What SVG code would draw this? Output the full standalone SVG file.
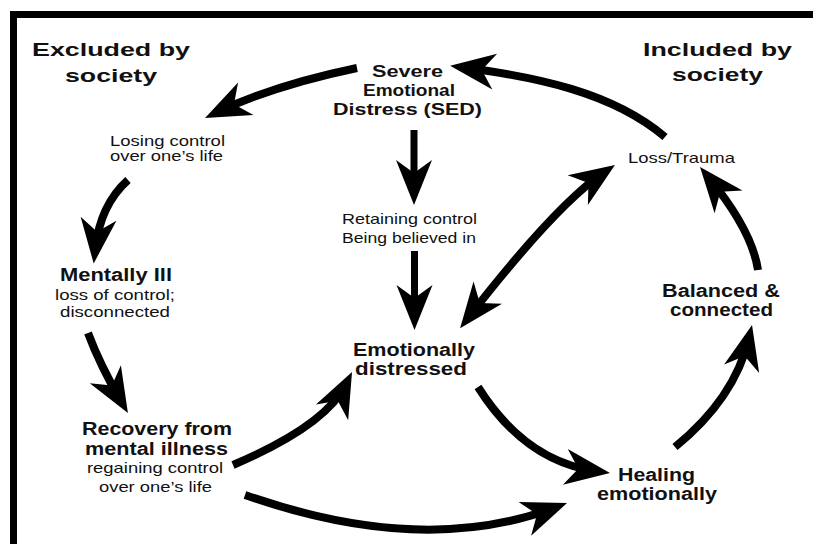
<svg xmlns="http://www.w3.org/2000/svg" width="813" height="544" viewBox="0 0 813 544">
<style>
text{font-family:"Liberation Sans",Arial,Helvetica,sans-serif;fill:#111;text-anchor:middle}
.h{font-size:19px;font-weight:bold}
.t{font-size:18px;font-weight:bold}
.s{font-size:16px;font-weight:bold}
.n{font-size:14.5px}
.c{fill:none;stroke:#000;stroke-width:8;stroke-linecap:butt}
</style>
<defs>
<marker id="ah" markerUnits="userSpaceOnUse" markerWidth="60" markerHeight="40" viewBox="-32 -20 60 40" refX="0" refY="0" orient="auto-start-reverse" overflow="visible">
<path d="M14,0 L-31,-18 L-18,0 L-31,18 Z" fill="#000"/>
</marker>
</defs>
<rect width="813" height="544" fill="#fff"/>
<g id="frame" fill="#000">
<rect x="10" y="11" width="803" height="7"/>
<rect x="10" y="11" width="7" height="533"/>
</g>
<g id="connectors">
<path class="c" d="M357,68 Q275,85 217.7,112" marker-end="url(#ah)"/>
<path class="c" d="M665,137 C612,92 535,77 464,67.5" marker-end="url(#ah)"/>
<path class="c" d="M128,180 Q100,205 95.2,249.6" marker-end="url(#ah)"/>
<path class="c" d="M88,333 Q100,365 120.9,401" marker-end="url(#ah)"/>
<path class="c" d="M233,465 Q325.4,425.8 345.8,384.6" marker-end="url(#ah)"/>
<path class="c" d="M245,495 Q422,557 553.9,508" marker-end="url(#ah)"/>
<path class="c" d="M478,387 Q525,461.4 596.1,471.1" marker-end="url(#ah)"/>
<path class="c" d="M675,447 Q734.6,398.4 748.8,338.6" marker-end="url(#ah)"/>
<path class="c" d="M758,270 Q752,230.5 708.9,177.8" marker-end="url(#ah)"/>
<path class="c" d="M468.7,317.1 Q556,205 603.4,172.8" marker-start="url(#ah)" marker-end="url(#ah)"/>
<path class="c" style="stroke-width:7" d="M414,130 L414,191" marker-end="url(#ah)"/>
<path class="c" style="stroke-width:7" d="M414.5,251 L414.5,316" marker-end="url(#ah)"/>
</g>
<g id="excluded">
<text class="h" x="111" y="56" textLength="158" lengthAdjust="spacingAndGlyphs">Excluded by</text>
<text class="h" x="111" y="82" textLength="92" lengthAdjust="spacingAndGlyphs">society</text>
</g>
<g id="included">
<text class="h" x="717.5" y="56" textLength="149" lengthAdjust="spacingAndGlyphs">Included by</text>
<text class="h" x="717.5" y="81" textLength="91" lengthAdjust="spacingAndGlyphs">society</text>
</g>
<g id="sed">
<text class="s" x="407.5" y="77" textLength="71" lengthAdjust="spacingAndGlyphs">Severe</text>
<text class="s" x="409" y="96" textLength="92" lengthAdjust="spacingAndGlyphs">Emotional</text>
<text class="s" x="407.5" y="115" textLength="149" lengthAdjust="spacingAndGlyphs">Distress (SED)</text>
</g>
<g id="losing">
<text class="n" x="167.5" y="146" textLength="115" lengthAdjust="spacingAndGlyphs">Losing control</text>
<text class="n" x="166.5" y="161" textLength="113" lengthAdjust="spacingAndGlyphs">over one’s life</text>
</g>
<g id="mentally-ill">
<text class="t" x="116" y="281" textLength="112" lengthAdjust="spacingAndGlyphs">Mentally Ill</text>
<text class="n" x="115" y="300" textLength="120" lengthAdjust="spacingAndGlyphs">loss of control;</text>
<text class="n" x="115" y="317" textLength="110" lengthAdjust="spacingAndGlyphs">disconnected</text>
</g>
<g id="recovery">
<text class="t" x="157" y="435" textLength="150" lengthAdjust="spacingAndGlyphs">Recovery from</text>
<text class="t" x="156.5" y="455" textLength="143" lengthAdjust="spacingAndGlyphs">mental illness</text>
<text class="n" x="155" y="473" textLength="136" lengthAdjust="spacingAndGlyphs">regaining control</text>
<text class="n" x="155.5" y="491.5" textLength="113" lengthAdjust="spacingAndGlyphs">over one’s life</text>
</g>
<g id="retaining">
<text class="n" x="409.5" y="224" textLength="135" lengthAdjust="spacingAndGlyphs">Retaining control</text>
<text class="n" x="409" y="243" textLength="134" lengthAdjust="spacingAndGlyphs">Being believed in</text>
</g>
<g id="emotionally-distressed">
<text class="t" x="414" y="356" textLength="122" lengthAdjust="spacingAndGlyphs">Emotionally</text>
<text class="t" x="411" y="375" textLength="112" lengthAdjust="spacingAndGlyphs">distressed</text>
</g>
<g id="loss-trauma">
<text class="n" x="681.5" y="163" textLength="107" lengthAdjust="spacingAndGlyphs">Loss/Trauma</text>
</g>
<g id="balanced">
<text class="t" x="721" y="297" textLength="118" lengthAdjust="spacingAndGlyphs">Balanced &amp;</text>
<text class="t" x="721.5" y="315.5" textLength="103" lengthAdjust="spacingAndGlyphs">connected</text>
</g>
<g id="healing">
<text class="t" x="656.5" y="481" textLength="77" lengthAdjust="spacingAndGlyphs" style="font-size:17.5px">Healing</text>
<text class="t" x="657" y="500" textLength="120" lengthAdjust="spacingAndGlyphs" style="font-size:17.5px">emotionally</text>
</g>
</svg>
